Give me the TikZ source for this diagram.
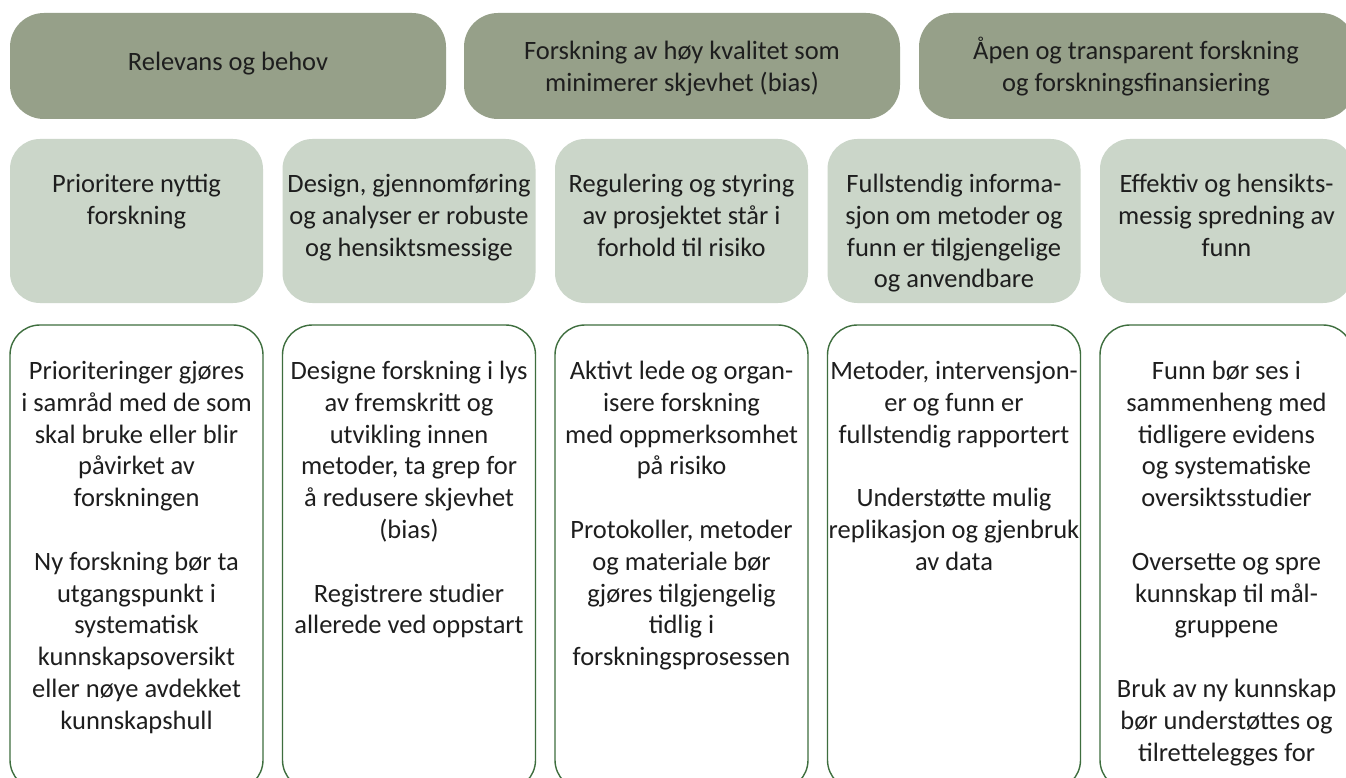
\documentclass[tikz,border=0pt]{standalone}
\usepackage{fontspec}
\setmainfont{Carlito}
\definecolor{topgreen}{HTML}{96A089}
\definecolor{midgreen}{HTML}{CBD6C9}
\definecolor{lowline}{HTML}{3E6E3E}
\definecolor{textcol}{HTML}{1E1E1E}
\newcommand\boxtext[1]{\parbox[t]{420pt}{\centering #1}}
\begin{document}
\begin{tikzpicture}[x=1pt,y=-1pt,
 topbox/.style={rectangle, rounded corners=34pt, fill=topgreen, minimum width=436pt, minimum height=106pt, inner sep=0pt},
 midbox/.style={rectangle, rounded corners=30pt, fill=midgreen, minimum width=253pt, minimum height=164pt, inner sep=0pt},
 lowbox/.style={rectangle, rounded corners=30pt, draw=lowline, line width=1.4pt, fill=white, minimum width=253pt, minimum height=465pt, inner sep=0pt},
 txt/.style={anchor=base, inner sep=0pt, text=textcol, font=\fontsize{26.5}{31.8}\selectfont}
]
\clip (0,0) rectangle (1346,778);
\fill[white] (0,0) rectangle (1346,778);

% top row
\node[topbox] (t1) at (228,66) {};
\node[topbox] (t2) at (682,66) {};
\node[topbox] (t3) at (1137,66) {};
\node[txt] (t1x) at (228,71) {\boxtext{Relevans og behov}};
\node[txt] (t2x) at (682,60) {\boxtext{Forskning av høy kvalitet som\\ minimerer skjevhet (bias)}};
\node[txt] (t3x) at (1136,60) {\boxtext{Åpen og transparent forskning\\ og forskningsfinansiering}};

% middle row
\node[midbox] (m1) at (136.5,221) {};
\node[midbox] (m2) at (409,221) {};
\node[midbox] (m3) at (681.5,221) {};
\node[midbox] (m4) at (954,221) {};
\node[midbox] (m5) at (1226.5,221) {};
\node[txt] (m1x) at (136.5,192.5) {\boxtext{Prioritere nyttig\\ forskning}};
\node[txt] (m2x) at (409,192.5) {\boxtext{Design, gjennomføring\\ og analyser er robuste\\ og hensiktsmessige}};
\node[txt] (m3x) at (681.5,192.5) {\boxtext{Regulering og styring\\ av prosjektet står i\\ forhold til risiko}};
\node[txt] (m4x) at (954,192.5) {\boxtext{Fullstendig informa-\\ sjon om metoder og\\ funn er tilgjengelige\\ og anvendbare}};
\node[txt] (m5x) at (1226.5,192.5) {\boxtext{Effektiv og hensikts-\\ messig spredning av\\ funn}};

% bottom row
\node[lowbox] (b1) at (136.5,557.5) {};
\node[lowbox] (b2) at (409,557.5) {};
\node[lowbox] (b3) at (681.5,557.5) {};
\node[lowbox] (b4) at (954,557.5) {};
\node[lowbox] (b5) at (1226.5,557.5) {};
\node[txt] (b1x) at (136.5,379.5) {\boxtext{Prioriteringer gjøres\\ i samråd med de som\\ skal bruke eller blir\\ påvirket av\\ forskningen\\[\baselineskip] Ny forskning bør ta\\ utgangspunkt i\\ systematisk\\ kunnskapsoversikt\\ eller nøye avdekket\\ kunnskapshull}};
\node[txt] (b2x) at (409,379.5) {\boxtext{Designe forskning i lys\\ av fremskritt og\\ utvikling innen\\ metoder, ta grep for\\ å redusere skjevhet\\ (bias)\\[\baselineskip] Registrere studier\\ allerede ved oppstart}};
\node[txt] (b3x) at (681.5,379.5) {\boxtext{Aktivt lede og organ-\\ isere forskning\\ med oppmerksomhet\\ på risiko\\[\baselineskip] Protokoller, metoder\\ og materiale bør\\ gjøres tilgjengelig\\ tidlig i\\ forskningsprosessen}};
\node[txt] (b4x) at (954,379.5) {\boxtext{Metoder, intervensjon-\\ er og funn er\\ fullstendig rapportert\\[\baselineskip] Understøtte mulig\\ replikasjon og gjenbruk\\ av data}};
\node[txt] (b5x) at (1226.5,379.5) {\boxtext{Funn bør ses i\\ sammenheng med\\ tidligere evidens\\ og systematiske\\ oversiktsstudier\\[\baselineskip] Oversette og spre\\ kunnskap til mål-\\ gruppene\\[\baselineskip] Bruk av ny kunnskap\\ bør understøttes og\\ tilrettelegges for}};
\end{tikzpicture}
\end{document}
